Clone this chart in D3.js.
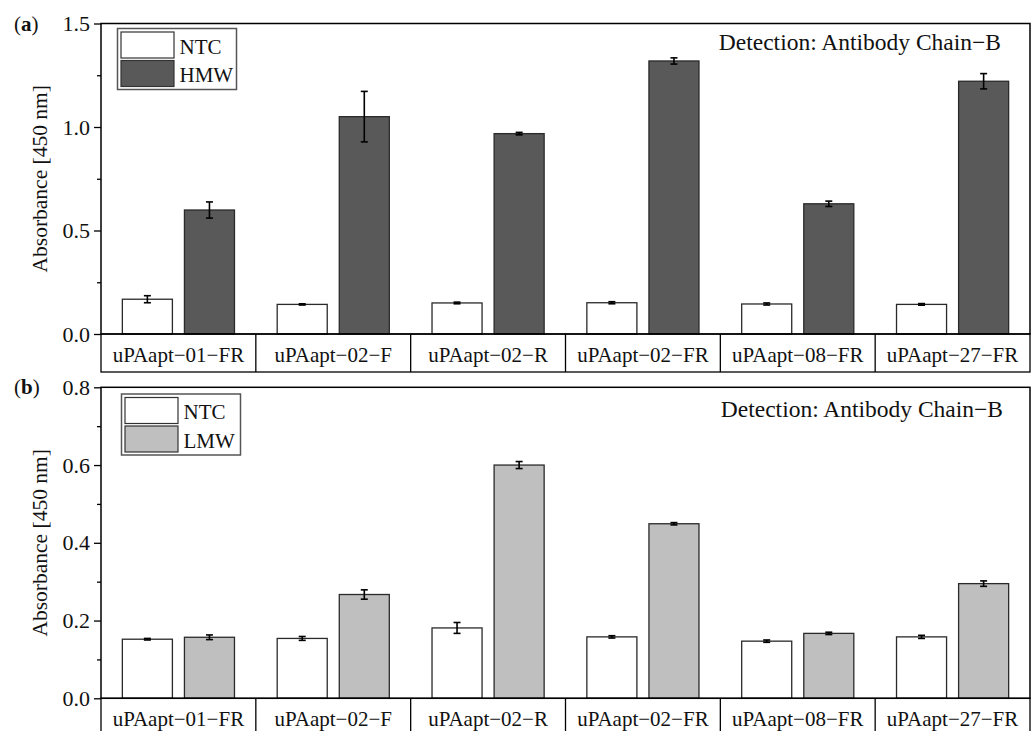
<!DOCTYPE html>
<meta charset="utf-8">
<body style="margin:0;background:#fff">
<script src="https://cdn.jsdelivr.net/npm/d3@7"></script>
<script>
// categories and values
var categories = ["uPAapt\u221201\u2212FR", "uPAapt\u221202\u2212F", "uPAapt\u221202\u2212R",
                  "uPAapt\u221202\u2212FR", "uPAapt\u221208\u2212FR", "uPAapt\u221227\u2212FR"];

var ntcA    = [0.168, 0.143, 0.150, 0.151, 0.145, 0.143];
var ntcAErr = [0.017, 0.003, 0.004, 0.005, 0.005, 0.004];
var hmw     = [0.599, 1.050, 0.968, 1.319, 0.629, 1.221];
var hmwErr  = [0.039, 0.122, 0.006, 0.015, 0.013, 0.037];

var ntcB    = [0.152, 0.154, 0.181, 0.158, 0.147, 0.158];
var ntcBErr = [0.002, 0.005, 0.014, 0.003, 0.003, 0.004];
var lmw     = [0.157, 0.267, 0.600, 0.449, 0.167, 0.295];
var lmwErr  = [0.006, 0.012, 0.009, 0.003, 0.003, 0.007];

var ticksA = [0, 0.5, 1.0, 1.5], minorA = [0.25, 0.75, 1.25];
var ticksB = [0, 0.2, 0.4, 0.6, 0.8], minorB = [0.1, 0.3, 0.5, 0.7];

var FONT = "'Liberation Serif', 'DejaVu Serif', serif";

var svg = d3.select("body").append("svg")
  .attr("width", 1034).attr("height", 731)
  .style("font-family", FONT);

var left = 101, right = 1030;

var x0 = d3.scaleBand().domain(categories).range([left, right]);
var x1 = d3.scaleBand().domain(["ntc", "s"]).range([0, x0.bandwidth()])
  .paddingInner(0.194).paddingOuter(0.344);

function drawPanel(p) {
  var y = d3.scaleLinear().domain([0, p.ymax]).range([p.bottom, p.top]);
  var g = svg.append("g");

  // bars
  var series = [
    {key: "ntc", vals: p.ntc, errs: p.ntcErr, fill: "#ffffff"},
    {key: "s", vals: p.vals, errs: p.errs, fill: p.color}
  ];
  series.forEach(function(s) {
    g.selectAll(null).data(categories).enter().append("rect")
      .attr("x", function(c) { return x0(c) + x1(s.key); })
      .attr("y", function(c, i) { return y(s.vals[i]); })
      .attr("width", x1.bandwidth())
      .attr("height", function(c, i) { return y(0) - y(s.vals[i]); })
      .attr("fill", s.fill)
      .attr("stroke", "#2a2a2a").attr("stroke-width", 1.3);

    var eb = g.selectAll(null).data(categories).enter().append("g")
      .attr("stroke", "#000").attr("stroke-width", 1.6);
    var cx = function(c) { return x0(c) + x1(s.key) + x1.bandwidth() / 2; };
    eb.append("line")
      .attr("x1", cx).attr("x2", cx)
      .attr("y1", function(c, i) { return y(s.vals[i] - s.errs[i]); })
      .attr("y2", function(c, i) { return y(s.vals[i] + s.errs[i]); });
    [-1, 1].forEach(function(sg) {
      eb.append("line")
        .attr("x1", function(c) { return cx(c) - 3.5; })
        .attr("x2", function(c) { return cx(c) + 3.5; })
        .attr("y1", function(c, i) { return y(s.vals[i] + sg * s.errs[i]); })
        .attr("y2", function(c, i) { return y(s.vals[i] + sg * s.errs[i]); });
    });
  });

  // frame
  g.append("rect")
    .attr("x", left).attr("y", p.top)
    .attr("width", right - left).attr("height", p.bottom - p.top)
    .attr("fill", "none").attr("stroke", "#000").attr("stroke-width", 1.5);

  // y axis
  var ax = g.append("g").attr("transform", "translate(" + left + ",0)")
    .call(d3.axisLeft(y).tickValues(p.ticks).tickFormat(d3.format(".1f"))
      .tickSize(7).tickSizeOuter(0).tickPadding(4));
  ax.select(".domain").remove();
  ax.selectAll("line").attr("stroke-width", 1.3);
  ax.selectAll("text").style("font-family", FONT).attr("font-size", 22).attr("fill", "#111");
  var mi = g.append("g").attr("transform", "translate(" + left + ",0)")
    .call(d3.axisLeft(y).tickValues(p.minor).tickFormat("").tickSize(4).tickSizeOuter(0));
  mi.select(".domain").remove();
  mi.selectAll("line").attr("stroke-width", 1.3);

  // category label boxes
  var cb = g.append("g");
  cb.append("rect")
    .attr("x", left).attr("y", p.bottom)
    .attr("width", right - left).attr("height", p.boxH)
    .attr("fill", "none").attr("stroke", "#000").attr("stroke-width", 1.3);
  cb.selectAll(null).data(categories.slice(1)).enter().append("line")
    .attr("x1", function(c) { return x0(c); }).attr("x2", function(c) { return x0(c); })
    .attr("y1", p.bottom).attr("y2", p.bottom + p.boxH)
    .attr("stroke", "#000").attr("stroke-width", 1.3);
  cb.selectAll(null).data(categories).enter().append("text")
    .attr("x", function(c) { return x0(c) + x0.bandwidth() / 2; })
    .attr("y", p.bottom + 28)
    .attr("text-anchor", "middle").attr("font-size", 21).attr("fill", "#111")
    .text(function(c) { return c; });

  // axis title
  g.append("text")
    .attr("transform", "translate(47," + ((p.top + p.bottom) / 2) + ") rotate(-90)")
    .attr("text-anchor", "middle").attr("font-size", 21.5).attr("fill", "#111")
    .text("Absorbance [450 nm]");

  // panel letter
  var pl = g.append("text").attr("x", 14).attr("y", p.top + 7)
    .attr("font-size", 21).attr("fill", "#111");
  pl.append("tspan").text("(");
  pl.append("tspan").attr("font-weight", "bold").text(p.letter);
  pl.append("tspan").text(")");

  // detection label
  g.append("text").attr("x", p.detX).attr("y", p.detY)
    .attr("text-anchor", "end").attr("font-size", 23.5).attr("fill", "#111")
    .text("Detection: Antibody Chain\u2212B");

  // legend
  var lg = g.append("g").attr("transform", "translate(" + p.legX + "," + p.legY + ")");
  lg.append("rect").attr("x", 0).attr("y", 0).attr("width", 119).attr("height", 61)
    .attr("fill", "#fff").attr("stroke", "#555").attr("stroke-width", 1.5);
  [["NTC", "#ffffff"], [p.name, p.color]].forEach(function(it, i) {
    lg.append("rect").attr("x", 3.5).attr("y", 3.5 + i * 28.5)
      .attr("width", 53).attr("height", 26)
      .attr("fill", it[1]).attr("stroke", "#333").attr("stroke-width", 1.2);
    lg.append("text").attr("x", 62).attr("y", 25 + i * 28.5)
      .attr("font-size", 21).attr("fill", "#111").text(it[0]);
  });
}

drawPanel({letter: "a", name: "HMW", color: "#595959", top: 23.5, bottom: 334, boxH: 38,
  ymax: 1.5, ticks: ticksA, minor: minorA,
  ntc: ntcA, ntcErr: ntcAErr, vals: hmw, errs: hmwErr,
  detX: 1001, detY: 50, legX: 117.5, legY: 28.5});

drawPanel({letter: "b", name: "LMW", color: "#bfbfbf", top: 387.3, bottom: 698.3, boxH: 40,
  ymax: 0.8, ticks: ticksB, minor: minorB,
  ntc: ntcB, ntcErr: ntcBErr, vals: lmw, errs: lmwErr,
  detX: 1003, detY: 417, legX: 121.5, legY: 394});
</script>
</body>
